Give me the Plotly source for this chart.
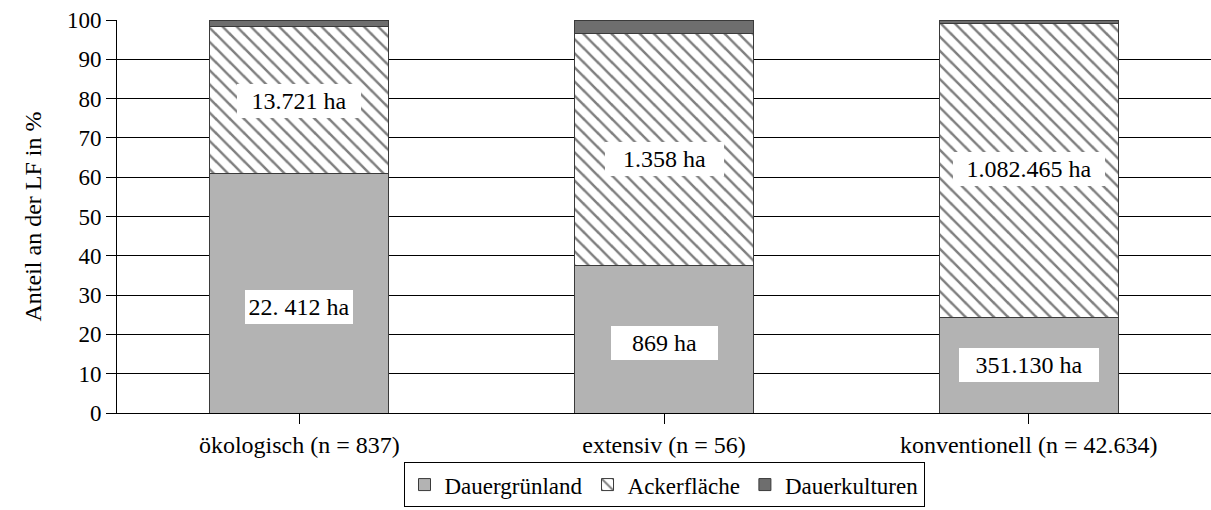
import plotly.graph_objects as go

# Land use shares (% of agricultural area) per farm type
categories = ["ökologisch (n = 837)", "extensiv (n = 56)", "konventionell (n = 42.634)"]
dauergruenland = [61.0, 37.6, 24.3]
ackerflaeche = [37.3, 59.0, 74.9]
dauerkulturen = [1.7, 3.4, 0.8]

# Absolute areas written into the bars
gruen_labels = ["22. 412 ha", "869 ha", "351.130 ha"]
acker_labels = ["13.721 ha", "1.358 ha", "1.082.465 ha"]

# Vertical anchor (in %) and box width (px) of the area labels
gruen_label_y = [27.1, 17.9, 12.3]
acker_label_y = [79.5, 64.6, 62.1]
gruen_box_w = [108, 107, 140]
acker_box_w = [124, 119, 152]

FONT = "Liberation Serif"
EDGE = "#3a3a3a"

fig = go.Figure()
fig.add_trace(go.Bar(
    name="Dauergrünland", x=categories, y=dauergruenland,
    marker=dict(color="#b3b3b3", line=dict(color=EDGE, width=1)),
    width=0.49,
))
fig.add_trace(go.Bar(
    name="Ackerfläche", x=categories, y=ackerflaeche,
    marker=dict(color="white", line=dict(color=EDGE, width=1),
                pattern=dict(shape="\\", fgcolor="black", bgcolor="white",
                             size=10, solidity=0.25, fillmode="overlay")),
    width=0.49,
))
fig.add_trace(go.Bar(
    name="Dauerkulturen", x=categories, y=dauerkulturen,
    marker=dict(color="#6e6e6e", line=dict(color=EDGE, width=1)),
    width=0.49,
))

pad = 4
for i in range(len(categories)):
    for text, yv, w in ((gruen_labels[i], gruen_label_y[i], gruen_box_w[i]),
                        (acker_labels[i], acker_label_y[i], acker_box_w[i])):
        fig.add_annotation(
            x=i, y=yv, xref="x", yref="y", text=text, showarrow=False,
            bgcolor="white", borderpad=pad, borderwidth=0,
            width=w - 2 * pad, height=34 - 2 * pad,
            font=dict(family=FONT, size=24, color="black"),
        )

fig.update_layout(
    barmode="stack",
    width=1211, height=510,
    margin=dict(l=117, r=0, t=20, b=97),
    paper_bgcolor="white", plot_bgcolor="white",
    font=dict(family=FONT, size=21, color="black"),
    legend=dict(
        orientation="h", x=0.5, xanchor="center", y=-0.125, yanchor="top",
        bordercolor="black", borderwidth=1, bgcolor="white",
        font=dict(family=FONT, size=23, color="black"),
        traceorder="normal",
    ),
    showlegend=True,
)
fig.update_xaxes(
    type="category", range=[-0.5, 2.5],
    showline=True, linecolor="black", linewidth=1,
    ticks="outside", ticklen=10, tickcolor="black",
    tickfont=dict(family=FONT, size=24, color="black"),
    showgrid=False,
)
fig.update_yaxes(
    range=[0, 100], dtick=10,
    showline=True, linecolor="black", linewidth=1,
    ticks="outside", ticklen=10, tickcolor="black",
    tickfont=dict(family=FONT, size=23, color="black"),
    showgrid=True, gridcolor="black", gridwidth=1,
    zeroline=False,
    title=dict(text="Anteil an der LF in %", standoff=18,
               font=dict(family=FONT, size=24, color="black")),
)

fig.write_html("out.html")
